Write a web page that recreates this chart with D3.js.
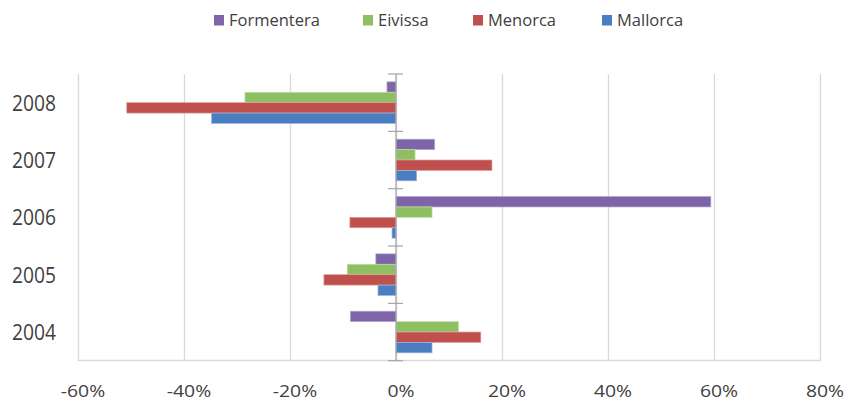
<!DOCTYPE html>
<html><head><meta charset="utf-8">
<script src="https://cdn.jsdelivr.net/npm/d3@7"></script>
<style>body{margin:0;background:#fff}svg{display:block}</style>
</head><body>
<svg id="c" width="847" height="401"></svg>
<script>
const categories = ["2008","2007","2006","2005","2004"];
const seriesNames = ["Formentera","Eivissa","Menorca","Mallorca"];
const seriesColors = ["#7E64A8","#8FBF63","#C0504D","#4A7EC1"];
const seriesBorders = ["#b3a2cf","#c2dea8","#dc9c9a","#9ab8e0"];
const formentera = [-1.7, 7.3, 59.4, -3.8, -8.6];
const eivissa    = [-28.5, 3.6, 6.8, -9.2, 11.8];
const menorca    = [-50.8, 18.1, -8.7, -13.6, 16.0];
const mallorca   = [-34.8, 3.9, -0.75, -3.4, 6.8];
const xTicks = [-60,-40,-20,0,20,40,60,80];
const seriesValues = [formentera, eivissa, menorca, mallorca];

const svg = d3.select("#c");
const font = "'Open Sans', sans-serif";
const x = d3.scaleLinear().domain([-60,80]).range([78,820]);
const y = d3.scaleBand().domain(categories).range([74,360.7]).paddingInner(0).paddingOuter(0);
const ys = d3.scaleBand().domain(seriesNames).range([0,y.bandwidth()]).paddingInner(0).paddingOuter(0.755);

// gridlines
svg.append("g").selectAll("line").data(xTicks).join("line")
  .attr("x1",d=>Math.round(x(d))+0.5).attr("x2",d=>Math.round(x(d))+0.5)
  .attr("y1",74).attr("y2",361)
  .attr("stroke","#d9d9d9").attr("stroke-width",1.3);
// bottom line
svg.append("line").attr("x1",78).attr("x2",820.5).attr("y1",360.5).attr("y2",360.5)
  .attr("stroke","#d9d9d9").attr("stroke-width",1.3);

// bars
const data = [];
categories.forEach((c,i)=>seriesNames.forEach((s,j)=>data.push({c,s,v:seriesValues[j][i],color:seriesColors[j],border:seriesBorders[j]})));
svg.append("g").selectAll("rect").data(data).join("rect")
  .attr("x",d=>Math.min(x(0),x(d.v)))
  .attr("width",d=>Math.abs(x(d.v)-x(0)))
  .attr("y",d=>y(d.c)+ys(d.s))
  .attr("height",ys.bandwidth())
  .attr("fill",d=>d.color)
  .attr("stroke",d=>d.border).attr("stroke-width",0.7);

// zero axis with cross ticks
svg.append("line").attr("x1",x(0)).attr("x2",x(0)).attr("y1",74).attr("y2",361)
  .attr("stroke","#a6a6a6").attr("stroke-width",1.2);
const bounds = categories.map(c=>y(c)).concat([y.range()[1]]);
svg.append("g").selectAll("line").data(bounds).join("line")
  .attr("x1",x(0)-8).attr("x2",x(0)+7).attr("y1",d=>d).attr("y2",d=>d)
  .attr("stroke","#a6a6a6").attr("stroke-width",1.2);

// category labels
svg.append("g").selectAll("text").data(categories).join("text")
  .attr("x",56).attr("y",d=>y(d)+y.bandwidth()/2+8)
  .attr("text-anchor","end").attr("font-family",font).attr("font-size",21.5)
  .attr("textLength",44).attr("lengthAdjust","spacingAndGlyphs")
  .attr("fill","#3f3f3f").text(d=>d);

// x tick labels (widened glyphs to match the reference face)
svg.append("g").selectAll("text").data(xTicks).join("text")
  .attr("x",d=>x(d)+5).attr("y",397).attr("text-anchor","middle")
  .attr("font-family",font).attr("font-size",17)
  .attr("fill","#404040")
  .text(d=>d+"%")
  .each(function(){ const w=this.getComputedTextLength(); this.setAttribute("textLength", w*1.14); this.setAttribute("lengthAdjust","spacingAndGlyphs"); });

// legend
const legX = [214, 363, 473, 602];
const lg = svg.append("g").selectAll("g").data(seriesNames).join("g")
  .attr("transform",(d,i)=>`translate(${legX[i]},0)`);
lg.append("rect").attr("x",0).attr("y",15).attr("width",10).attr("height",10.5)
  .attr("fill",(d,i)=>seriesColors[i]);
lg.append("text").attr("x",15).attr("y",25.7)
  .attr("font-family",font).attr("font-size",16.5).attr("fill","#404040").text(d=>d);
</script>
</body></html>
